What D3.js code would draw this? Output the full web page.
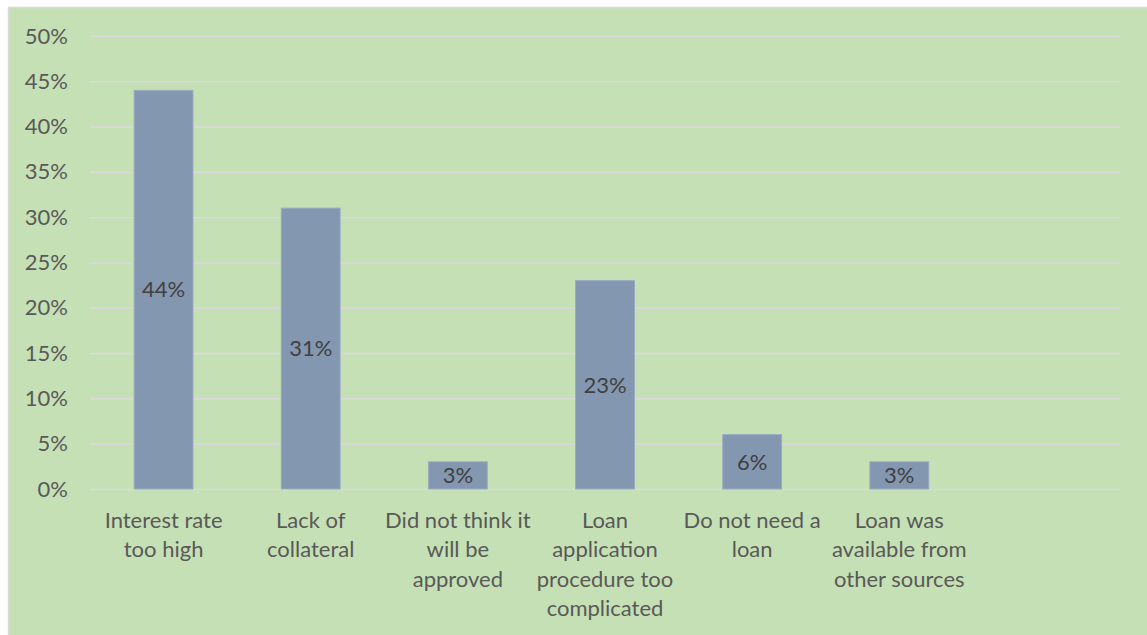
<!DOCTYPE html>
<html>
<head>
<meta charset="utf-8">
<script src="https://cdn.jsdelivr.net/npm/d3@7"></script>
<style>
  html, body { margin: 0; padding: 0; background: #ffffff; }
  svg { display: block; }
  text { font-family: Lato, "Open Sans", sans-serif; }
</style>
</head>
<body>
<svg id="chart" width="1147" height="635"></svg>
<script>
// Reasons for not applying for a loan (share of respondents)
const categories = [
  "Interest rate too high",
  "Lack of collateral",
  "Did not think it will be approved",
  "Loan application procedure too complicated",
  "Do not need a loan",
  "Loan was available from other sources",
  ""
];
// Category labels as they wrap under each bar
const categoryLines = [
  ["Interest rate", "too high"],
  ["Lack of", "collateral"],
  ["Did not think it", "will be", "approved"],
  ["Loan", "application", "procedure too", "complicated"],
  ["Do not need a", "loan"],
  ["Loan was", "available from", "other sources"],
  []
];
const values = [0.44, 0.31, 0.03, 0.23, 0.06, 0.03, null];
const yTicks = [0, 0.05, 0.10, 0.15, 0.20, 0.25, 0.30, 0.35, 0.40, 0.45, 0.50];

const svg = d3.select("#chart");
const W = 1147, H = 635;
const plot = { left: 90, right: 1120, top: 36, bottom: 489 };
const fontSize = "22px";

// chart area background
svg.append("rect")
  .attr("x", 8.5).attr("y", 7.5)
  .attr("width", W + 10).attr("height", H + 10)
  .attr("fill", "#c5e0b4")
  .attr("stroke", "#d9d9d9")
  .attr("stroke-width", 1.5);

const x = d3.scaleBand()
  .domain(categories.map((d, i) => i))
  .range([plot.left, plot.right])
  .paddingInner(0.6)
  .paddingOuter(0.3);

const y = d3.scaleLinear()
  .domain([0, 0.5])
  .range([plot.bottom, plot.top]);

const pct = d3.format(".0%");

// horizontal gridlines + tick labels
const yAxis = d3.axisLeft(y)
  .tickValues(yTicks)
  .tickFormat(pct)
  .tickSize(-(plot.right - plot.left))
  .tickPadding(22);

const gy = svg.append("g")
  .attr("transform", `translate(${plot.left},0)`)
  .call(yAxis);
gy.select(".domain").remove();
gy.selectAll(".tick line")
  .attr("stroke", "#d9d9d9")
  .attr("stroke-width", 1.6);
gy.selectAll(".tick text")
  .attr("fill", "#595959")
  .attr("font-size", fontSize)
  .attr("font-family", "Lato, sans-serif");

// bars
const barData = values.map((v, i) => ({ i, v })).filter(d => d.v != null);
svg.append("g").selectAll("rect")
  .data(barData)
  .join("rect")
  .attr("x", d => x(d.i))
  .attr("y", d => y(d.v))
  .attr("width", x.bandwidth())
  .attr("height", d => y(0) - y(d.v))
  .attr("fill", "#8497b0")
  .attr("stroke", "#9aabc2")
  .attr("stroke-width", 1);

// value labels centred in bars
svg.append("g").selectAll("text")
  .data(barData)
  .join("text")
  .attr("x", d => x(d.i) + x.bandwidth() / 2)
  .attr("y", d => (y(d.v) + y(0)) / 2)
  .attr("dy", "0.35em")
  .attr("text-anchor", "middle")
  .attr("fill", "#404040")
  .attr("font-size", fontSize)
  .text(d => pct(d.v));

// category labels
const xAxis = d3.axisBottom(x).tickSize(0).tickFormat("");
const gx = svg.append("g")
  .attr("transform", `translate(0,${plot.bottom})`)
  .call(xAxis);
gx.select(".domain").remove();
gx.selectAll(".tick").each(function (d) {
  const t = d3.select(this).append("text")
    .attr("fill", "#595959")
    .attr("font-size", fontSize)
    .attr("text-anchor", "middle");
  categoryLines[d].forEach((line, k) => {
    t.append("tspan")
      .attr("x", 0)
      .attr("y", 39 + k * 29.3)
      .text(line);
  });
});
</script>
</body>
</html>
